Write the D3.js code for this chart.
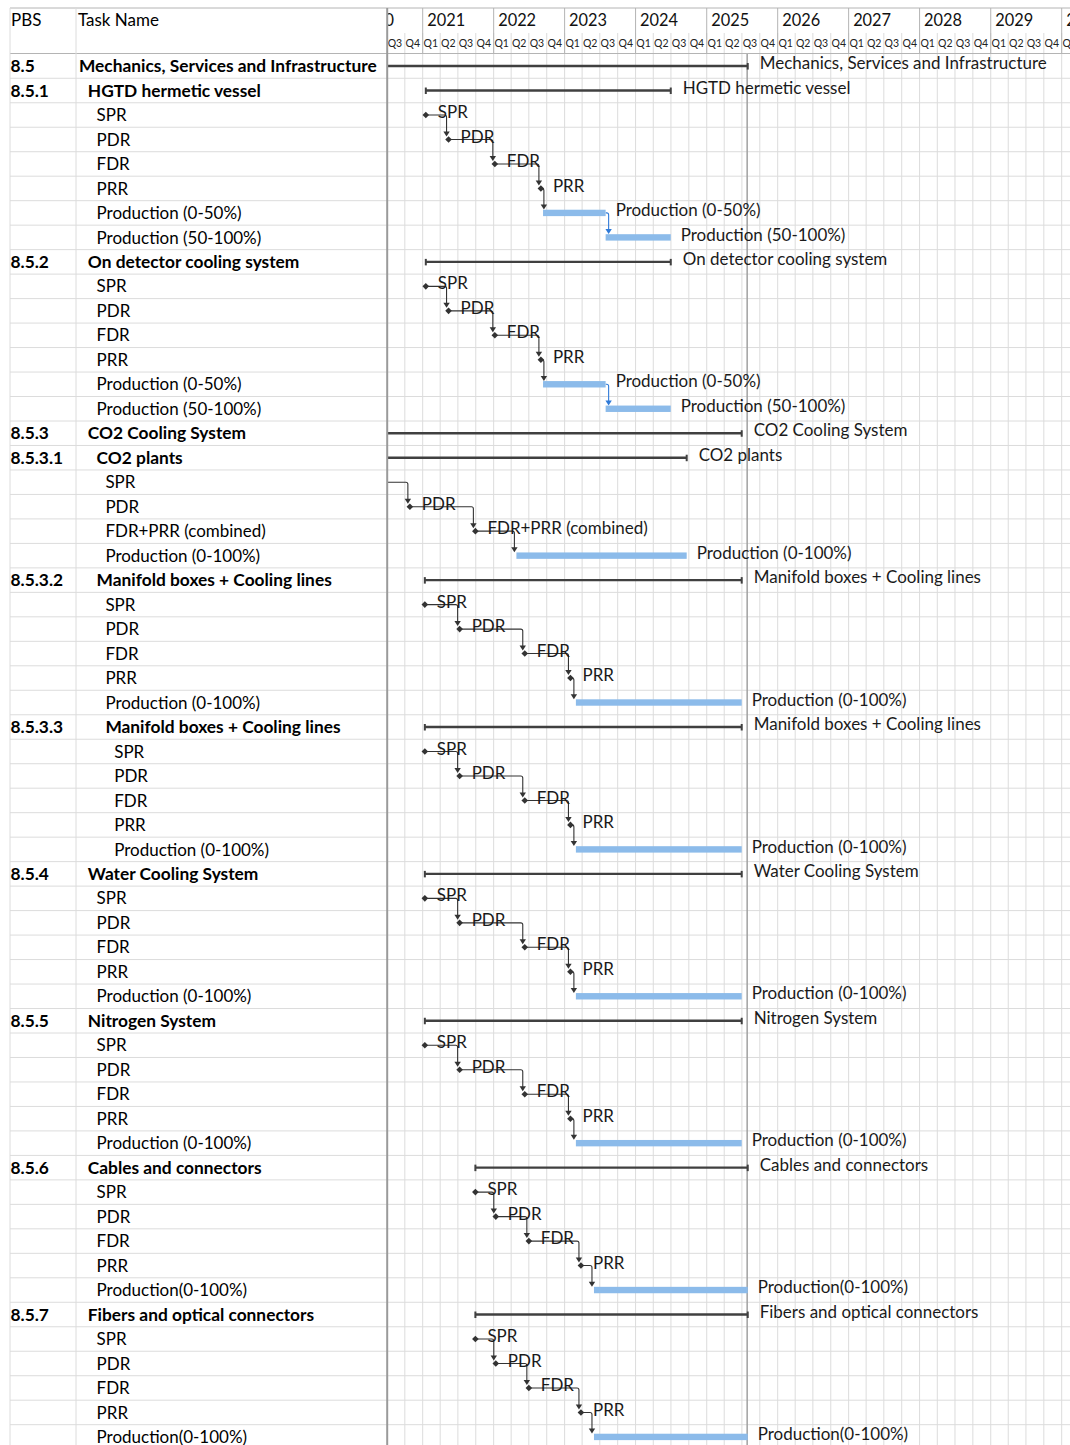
<!DOCTYPE html>
<html><head><meta charset="utf-8">
<script src="https://cdn.jsdelivr.net/npm/d3@7"></script>
<style>body{margin:0;background:#fff}svg{display:block}</style>
</head><body>
<svg id="c" width="1070" height="1445"></svg>
<script>
// ---------- DATA ----------
const pbs = ["8.5","8.5.1","","","","","","","8.5.2","","","","","","","8.5.3","8.5.3.1","","","","","8.5.3.2","","","","","","8.5.3.3","","","","","","8.5.4","","","","","","8.5.5","","","","","","8.5.6","","","","","","8.5.7","","","","",""];
const taskNames = ["Mechanics, Services and Infrastructure",
 "HGTD hermetic vessel","SPR","PDR","FDR","PRR","Production (0-50%)","Production (50-100%)",
 "On detector cooling system","SPR","PDR","FDR","PRR","Production (0-50%)","Production (50-100%)",
 "CO2 Cooling System","CO2 plants","SPR","PDR","FDR+PRR (combined)","Production (0-100%)",
 "Manifold boxes + Cooling lines","SPR","PDR","FDR","PRR","Production (0-100%)",
 "Manifold boxes + Cooling lines","SPR","PDR","FDR","PRR","Production (0-100%)",
 "Water Cooling System","SPR","PDR","FDR","PRR","Production (0-100%)",
 "Nitrogen System","SPR","PDR","FDR","PRR","Production (0-100%)",
 "Cables and connectors","SPR","PDR","FDR","PRR","Production(0-100%)",
 "Fibers and optical connectors","SPR","PDR","FDR","PRR","Production(0-100%)"];
const outlineLevels = [0,1,2,2,2,2,2,2,1,2,2,2,2,2,2,1,2,3,3,3,3,2,3,3,3,3,3,3,4,4,4,4,4,1,2,2,2,2,2,1,2,2,2,2,2,1,2,2,2,2,2,1,2,2,2,2,2];
// S = summary, M = milestone, T = task
const taskTypes = ["S","S","M","M","M","M","T","T","S","M","M","M","M","T","T","S","S","M","M","M","T","S","M","M","M","M","T","S","M","M","M","M","T","S","M","M","M","M","T","S","M","M","M","M","T","S","M","M","M","M","T","S","M","M","M","M","T"];
const startDates = ["2019-11-01",
 "2021-01-17","2021-01-17","2021-05-14","2022-01-07","2022-09-01","2022-09-12","2023-07-31",
 "2021-01-17","2021-01-17","2021-05-14","2022-01-07","2022-09-01","2022-09-12","2023-07-31",
 "2019-11-01","2019-11-01","2019-11-01","2020-10-27","2021-09-29","2022-04-28",
 "2021-01-12","2021-01-12","2021-07-10","2022-06-10","2023-01-31","2023-02-28",
 "2021-01-12","2021-01-12","2021-07-10","2022-06-10","2023-01-31","2023-02-28",
 "2021-01-12","2021-01-12","2021-07-10","2022-06-10","2023-01-31","2023-02-28",
 "2021-01-12","2021-01-12","2021-07-10","2022-06-10","2023-01-31","2023-02-28",
 "2021-09-29","2021-09-29","2022-01-12","2022-07-01","2023-03-26","2023-06-01",
 "2021-09-29","2021-09-29","2022-01-12","2022-07-01","2023-03-26","2023-06-01"];
const endDates = ["2025-07-31",
 "2024-06-30","","","","","2023-07-31","2024-06-30",
 "2024-06-30","","","","","2023-07-31","2024-06-30",
 "2025-06-30","2024-09-20","","","","2024-09-20",
 "2025-06-30","","","","","2025-06-30",
 "2025-06-30","","","","","2025-06-30",
 "2025-06-30","","","","","2025-06-30",
 "2025-06-30","","","","","2025-06-30",
 "2025-07-31","","","","","2025-07-31",
 "2025-07-31","","","","","2025-07-31"];
const statusDate = "2025-07-28";
const timelineStart = "2020-07-01", timelineEnd = "2030-07-01";

// ---------- LAYOUT ----------
const W = 1070, H = 1445;
const FONT = "Lato, 'Open Sans', sans-serif";
const TOP = 8, HEAD_B = 53.8, ROW_H = 24.48;
const X_L = 10, X_PBS = 76, X_G = 387.2;
const parse = d3.timeParse("%Y-%m-%d");
const svg = d3.select("#c");
svg.append("rect").attr("width",W).attr("height",H).attr("fill","#fff");

function fit(text, weight, target, base){
  const t = svg.append("text").attr("font-family",FONT).attr("font-weight",weight).attr("font-size",base).text(text);
  const w = t.node().getComputedTextLength(); t.remove(); return base*target/w;
}
const fsR = fit("Production (0-50%)",400,145,16);
const fsB = fit("Mechanics, Services and Infrastructure",700,298,16);
const fsQ = fit("Q1",400,14.5,11);
const fsY = fit("2021",400,38,16);

const x = d3.scaleTime().domain([parse("2021-01-01"), parse("2030-01-01")]).range([422.7, 1061.7]);
const rows = d3.range(taskNames.length);
const y = d3.scaleBand().domain(rows).range([HEAD_B, HEAD_B + ROW_H*rows.length]);
const yc = i => y(i) + ROW_H/2;

const defs = svg.append("defs");
defs.append("clipPath").attr("id","gclip").append("rect").attr("x",X_G).attr("y",HEAD_B).attr("width",W-X_G).attr("height",H-HEAD_B);
defs.append("clipPath").attr("id","hclip").append("rect").attr("x",X_G).attr("y",TOP).attr("width",W-X_G).attr("height",HEAD_B-TOP);

const grid = "#dcdcdc", dark = "#b4b4b4";
// row lines
const rowLines = svg.append("g");
rows.forEach(i=>{
  rowLines.append("line").attr("x1",X_L).attr("x2",W).attr("y1",y(i)+ROW_H).attr("y2",y(i)+ROW_H).attr("stroke",grid).attr("stroke-width",1);
});
// gantt quarter grid
const quarters = d3.timeMonth.every(3).range(parse(timelineStart), parse(timelineEnd));
const gg = svg.append("g").attr("clip-path","url(#gclip)");
quarters.forEach(q=>{
  gg.append("line").attr("x1",x(q)).attr("x2",x(q)).attr("y1",HEAD_B).attr("y2",H).attr("stroke",grid);
});
// header
const hg = svg.append("g").attr("clip-path","url(#hclip)");
quarters.forEach(q=>{
  hg.append("line").attr("x1",x(q)).attr("x2",x(q)).attr("y1",33).attr("y2",HEAD_B).attr("stroke",grid);
  hg.append("text").attr("x",x(q)+0.8).attr("y",43+fsQ*0.35).attr("font-family",FONT).attr("font-size",fsQ).attr("fill","#222")
    .text("Q"+(Math.floor(q.getMonth()/3)+1));
});
d3.timeYear.range(parse("2020-01-01"), parse("2031-01-01")).forEach(yr=>{
  hg.append("line").attr("x1",x(yr)).attr("x2",x(yr)).attr("y1",TOP).attr("y2",HEAD_B).attr("stroke",dark);
  hg.append("text").attr("x",x(yr)+4.5).attr("y",20+fsY*0.35).attr("font-family",FONT).attr("font-size",fsY).attr("fill","#111")
    .text(d3.timeFormat("%Y")(yr));
});
// borders
svg.append("line").attr("x1",X_L).attr("x2",W).attr("y1",TOP).attr("y2",TOP).attr("stroke",dark);
svg.append("line").attr("x1",X_L).attr("x2",W).attr("y1",HEAD_B-0.3).attr("y2",HEAD_B-0.3).attr("stroke",dark);
svg.append("line").attr("x1",X_L).attr("x2",X_L).attr("y1",TOP).attr("y2",H).attr("stroke",grid);
svg.append("line").attr("x1",X_PBS).attr("x2",X_PBS).attr("y1",TOP).attr("y2",H).attr("stroke",grid);
svg.append("line").attr("x1",X_G).attr("x2",X_G).attr("y1",TOP).attr("y2",H).attr("stroke","#9a9a9a").attr("stroke-width",2);
// header titles
svg.append("text").attr("x",11).attr("y",20+fsR*0.35).attr("font-family",FONT).attr("font-size",fsR).text("PBS");
svg.append("text").attr("x",78).attr("y",20+fsR*0.35).attr("font-family",FONT).attr("font-size",fsR).text("Task Name");

// table text
rows.forEach(i=>{
  const bold = taskTypes[i]==="S";
  if (pbs[i]) svg.append("text").attr("x",10.5).attr("y",yc(i)+fsB*0.36).attr("font-family",FONT).attr("font-weight",700).attr("font-size",fsB).attr("fill","#000").text(pbs[i]);
  svg.append("text").attr("x",79+outlineLevels[i]*8.8).attr("y",yc(i)+(bold?fsB:fsR)*0.36)
    .attr("font-family",FONT).attr("font-weight",bold?700:400).attr("font-size",bold?fsB:fsR).attr("fill","#000").text(taskNames[i]);
});

// status line
gg.append("line").attr("x1",x(parse(statusDate))).attr("x2",x(parse(statusDate))).attr("y1",HEAD_B).attr("y2",H).attr("stroke","#a0a0a0").attr("stroke-width",1.5);

// links
const lg = gg.append("g");
rows.forEach(i=>{
  if (i===0 || taskTypes[i]==="S" || taskTypes[i-1]==="S") return;
  const p = i-1;
  const pT = taskTypes[p]==="T";
  const px = x(parse(pT ? endDates[p] : startDates[p]));
  const sx = x(parse(startDates[i]));
  const vx = Math.max(px+3, sx-2);
  const ty = yc(i) - (taskTypes[i]==="M" ? 3 : 3.3);
  const col = pT ? "#2f7ad8" : "#333";
  lg.append("path").attr("d",`M${px},${yc(p)}H${vx-2}Q${vx},${yc(p)} ${vx},${yc(p)+2}V${ty-4}`).attr("fill","none").attr("stroke",col).attr("stroke-width",1.1);
  lg.append("path").attr("d",`M${vx-3.2},${ty-5}L${vx+3.2},${ty-5}L${vx},${ty}Z`).attr("fill",col);
});

// bars
const bg = gg.append("g");
rows.forEach(i=>{
  const t = taskTypes[i], cy = yc(i);
  if (t==="S"){
    const a = x(parse(startDates[i])), b = x(parse(endDates[i]));
    bg.append("line").attr("x1",a).attr("x2",b).attr("y1",cy).attr("y2",cy).attr("stroke","#404040").attr("stroke-width",2.4);
    [a,b].forEach(e=> bg.append("rect").attr("x",e-1).attr("y",cy-3).attr("width",2).attr("height",6.5).attr("fill","#404040"));
  } else if (t==="M"){
    const m = x(parse(startDates[i]));
    bg.append("path").attr("d",`M${m},${cy-3.3}L${m+3.3},${cy}L${m},${cy+3.3}L${m-3.3},${cy}Z`).attr("fill","#333");
  } else {
    const a = x(parse(startDates[i])), b = x(parse(endDates[i]));
    bg.append("rect").attr("x",a).attr("y",cy-3.2).attr("width",b-a).attr("height",6.4).attr("fill","#8cbbea");
  }
});

// gantt labels (clipped to the chart area, like the bars)
const labg = svg.append("g").attr("clip-path","url(#gclip)");
rows.forEach(i=>{
  const t = taskTypes[i];
  const lx = t==="M" ? x(parse(startDates[i]))+12 : x(parse(endDates[i])) + (t==="S"?12:10);
  labg.append("text").attr("x",lx).attr("y",yc(i)-3+fsR*0.36).attr("font-family",FONT).attr("font-size",fsR).attr("fill","#1a1a1a").text(taskNames[i]);
});
</script>
</body></html>
